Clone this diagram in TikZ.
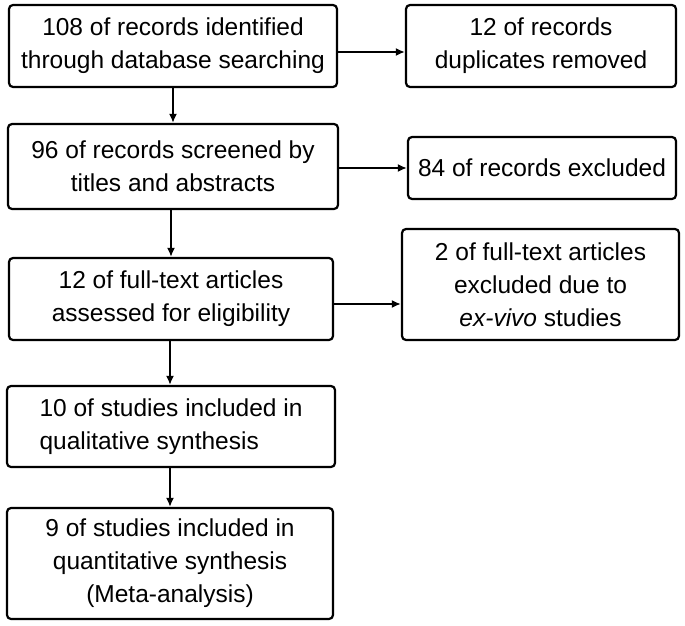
\documentclass[tikz,border=0pt]{standalone}
\usepackage{fontspec}
\setmainfont{Liberation Sans}
\usetikzlibrary{arrows.meta}
\begin{document}
\begin{tikzpicture}[x=1pt,y=1pt,
  box/.style={draw=black, line width=2.2pt, rounded corners=4pt, fill=white,
    align=center, inner sep=0pt, font=\fontsize{24.5}{33}\selectfont},
  arr/.style={line width=2.2pt, -{Latex[length=9pt,width=8pt]}}]
\useasboundingbox (0,0) rectangle (685,625);
\node[box, minimum width=328pt, minimum height=82pt] (b1) at (173,579)
  {108 of records identified\\through database searching};
\node[box, minimum width=270pt, minimum height=82pt] (b2) at (541,579)
  {12 of records\\duplicates removed};
\node[box, minimum width=330pt, minimum height=85pt] (b3) at (173,458.5)
  {96 of records screened by\\titles and abstracts};
\node[box, minimum width=268pt, minimum height=62pt] (b4) at (542,457)
  {84 of records excluded};
\node[box, minimum width=324pt, minimum height=82pt] (b5) at (171,326)
  {12 of full-text articles\\assessed for eligibility};
\node[box, minimum width=277pt, minimum height=111pt] (b6) at (540.5,340.5)
  {2 of full-text articles\\excluded due to\\\textit{ex-vivo} studies};
\node[box, align=left, minimum width=328pt, minimum height=81pt] (b7) at (171,198.5)
  {10 of studies included in\\qualitative synthesis};
\node[box, minimum width=326pt, minimum height=111pt] (b8) at (170,61.5)
  {9 of studies included in\\quantitative synthesis\\(Meta-analysis)};
\draw[arr] ([yshift=-6pt]b1.east) -- ([yshift=-6pt]b1.east -| b2.west);
\draw[arr] (b4.west -| b3.east) -- (b4.west);
\draw[arr] ([yshift=-5pt]b5.east) -- ([yshift=-5pt]b5.east -| b6.west);
\draw[arr] (b1.south) -- (b1.south |- b3.north);
\draw[arr] ([xshift=-2pt]b3.south) -- ([xshift=-2pt]b3.south |- b5.north);
\draw[arr] ([xshift=-1pt]b5.south) -- ([xshift=-1pt]b5.south |- b7.north);
\draw[arr] ([xshift=-1pt]b7.south) -- ([xshift=-1pt]b7.south |- b8.north);
\end{tikzpicture}
\end{document}
